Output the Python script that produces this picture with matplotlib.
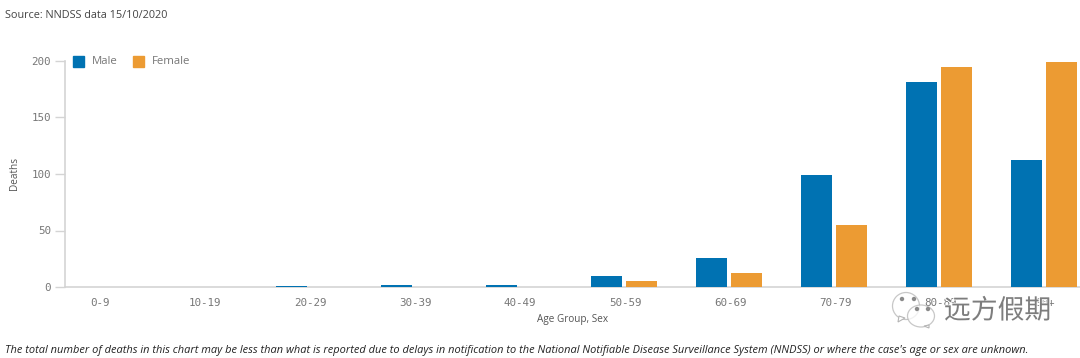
import numpy as np
import matplotlib
matplotlib.use('Agg')
import matplotlib.pyplot as plt
from matplotlib.patches import Ellipse, Polygon, Rectangle
import matplotlib.patheffects as pe

age_groups = ['0-9', '10-19', '20-29', '30-39', '40-49', '50-59', '60-69', '70-79', '80-89', '90+']
male = [0, 0, 1, 2, 2, 10, 26, 99, 181, 112]
female = [0, 0, 0, 0, 0, 5, 12, 55, 195, 199]
y_ticks = [0, 50, 100, 150, 200]

W, H = 1080, 358
blue = '#0072b2'
orange = '#ec9b33'
axis_grey = '#d4d4d4'
text_grey = '#777777'

plt.rcParams['font.family'] = ['Open Sans', 'DejaVu Sans']

fig = plt.figure(figsize=(W/100, H/100), dpi=100)
ax = fig.add_axes([65/W, 1 - 287/H, (W - 65)/W, 226/H])

x = np.arange(len(age_groups))
bar_w = 31/105
off = 17.5/105
ax.bar(x - off, male, bar_w, color=blue)
ax.bar(x + off, female, bar_w, color=orange)

ax.set_xlim(-0.324, 9.343)
ax.set_ylim(0, 200)
for s in ['top', 'right']:
    ax.spines[s].set_visible(False)
for s in ['left', 'bottom']:
    ax.spines[s].set_color(axis_grey)
    ax.spines[s].set_linewidth(1.2)
    ax.spines[s].set_zorder(0.5)
ax.set_xticks(x + 0.01)
ax.set_xticklabels(age_groups, family='DejaVu Sans Mono', fontsize=7.8, color=text_grey)
ax.set_yticks(y_ticks)
ax.set_yticklabels(y_ticks, family='DejaVu Sans Mono', fontsize=7.8, color=text_grey)
ax.tick_params(axis='x', length=0, pad=8)
ax.tick_params(axis='y', length=7, width=1, color=axis_grey, pad=3)
ax.set_xlabel('Age Group, Sex', fontsize=7.2, color='#555555', labelpad=4)
ax.set_ylabel('Deaths', fontsize=7.2, color='#555555', labelpad=8)

# legend drawn by hand so the squares sit where they do in the original
fig.add_artist(Rectangle((73/W, 1 - 67/H), 11/W, 11/H, color=blue, transform=fig.transFigure))
fig.add_artist(Rectangle((133/W, 1 - 67/H), 11/W, 11/H, color=orange, transform=fig.transFigure))
fig.text(92/W, 1 - 61.5/H, 'Male', fontsize=8.2, color=text_grey, va='center')
fig.text(152/W, 1 - 61.5/H, 'Female', fontsize=8.2, color=text_grey, va='center')

fig.text(5/W, 1 - 15/H, 'Source: NNDSS data 15/10/2020', fontsize=7.8, color='#444444', va='center')
fig.text(5/W, 1 - 350/H,
         "The total number of deaths in this chart may be less than what is reported due to delays in "
         "notification to the National Notifiable Disease Surveillance System (NNDSS) or where the case's "
         "age or sex are unknown.",
         fontsize=7.91, style='italic', color='#222222', va='center')

# watermark over the axis labels
for (cx, cy, ew, eh) in [(906, 306, 27, 27), (921, 316, 27, 22)]:
    fig.add_artist(Ellipse((cx/W, 1 - cy/H), ew/W, eh/H, facecolor='white', edgecolor='#b5b5b5',
                           lw=0.9, alpha=0.75, transform=fig.transFigure))
fig.add_artist(Polygon([(899/W, 1 - 316/H), (898/W, 1 - 322/H), (905/W, 1 - 318/H)], closed=True,
                       facecolor='white', edgecolor='#b5b5b5', lw=0.8, transform=fig.transFigure))
fig.add_artist(Polygon([(924/W, 1 - 326/H), (929/W, 1 - 328/H), (929/W, 1 - 325/H)], closed=True,
                       facecolor='white', edgecolor='#b5b5b5', lw=0.8, transform=fig.transFigure))
for (dx, dy) in [(902, 299), (914, 299), (917, 309), (928, 309)]:
    fig.add_artist(Ellipse((dx/W, 1 - dy/H), 3/W, 3/H, color='#8a8a8a', transform=fig.transFigure))
fig.text(944/W, 1 - 311/H, '远方假期', family=['Noto Sans CJK SC', 'DejaVu Sans'], fontsize=19.3,
         color='#7d7d7d', va='center', fontweight='light',
         path_effects=[pe.withStroke(linewidth=1.2, foreground='white')])

fig.savefig('out.png', dpi=100)
